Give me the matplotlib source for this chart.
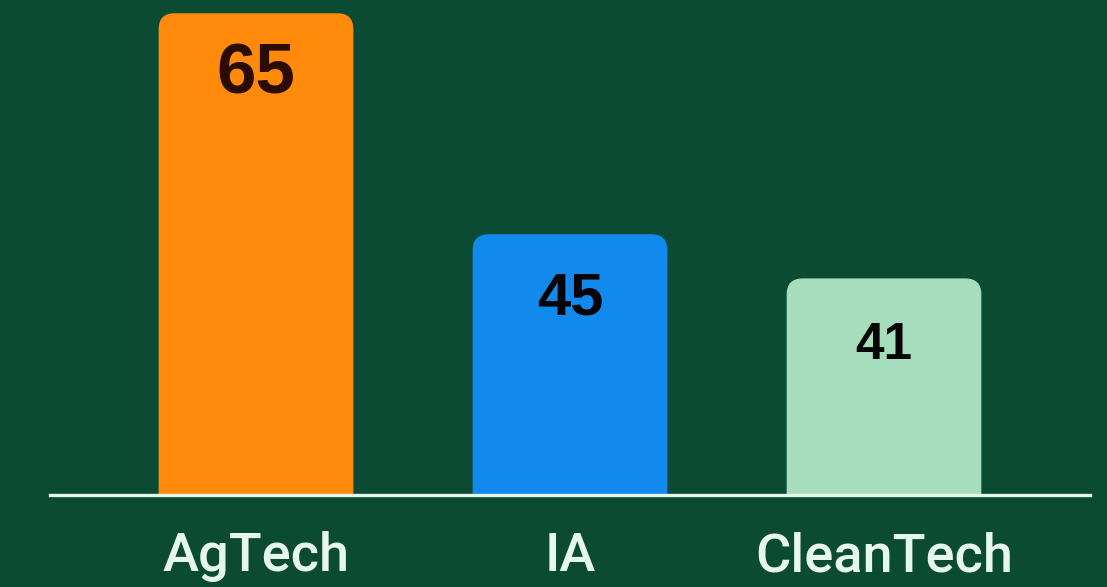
import matplotlib
matplotlib.use("Agg")
import matplotlib.pyplot as plt
from matplotlib.patches import FancyBboxPatch

categories = ["AgTech", "IA", "CleanTech"]
values = [65, 45, 41]

bar_colors = ["#FF8A0C", "#1289EC", "#A6DDBD"]
value_colors = ["#2A0C02", "#050505", "#050505"]
value_sizes = [51, 43, 37]
BG = "#0B4B33"
LINE = "#E6F7EE"


def main():
  fig = plt.figure(figsize=(11.07, 5.87), dpi=100, facecolor=BG)
  ax = fig.add_axes([50 / 1107, 92 / 587, 1040 / 1107, 495 / 587])
  ax.set_facecolor(BG)

  x = list(range(len(categories)))
  bars = ax.bar(x, values, width=0.62, color=bar_colors)

  ax.set_xlim(-0.656, 2.656)
  ax.set_ylim(21.4, 66.2)

  # swap the plain rectangles for ones with rounded tops
  fig.canvas.draw()
  p0 = ax.transData.transform((0, 0))
  p1 = ax.transData.transform((1, 1))
  px_x = p1[0] - p0[0]
  px_y = p1[1] - p0[1]
  radius = 16 / px_x
  for rect, c in zip(bars, bar_colors):
    rect.set_visible(False)
    patch = FancyBboxPatch((rect.get_x(), rect.get_y()), rect.get_width(), rect.get_height(),
                           boxstyle="round,pad=0,rounding_size=%f" % radius,
                           mutation_aspect=px_x / px_y, facecolor=c, edgecolor="none")
    ax.add_patch(patch)

  for i, v in enumerate(values):
    ax.annotate(str(v), (x[i], v), xytext=(0, -58), textcoords="offset points",
                ha="center", va="baseline", fontsize=value_sizes[i], fontweight="bold",
                family="Liberation Sans", color=value_colors[i])

  for s in ["top", "left", "right"]:
    ax.spines[s].set_visible(False)
  ax.spines["bottom"].set_color(LINE)
  ax.spines["bottom"].set_linewidth(2.4)
  ax.set_yticks([])
  ax.set_xticks(x)
  ax.set_xticklabels(categories, fontsize=39, family="Roboto", fontweight="medium", color=LINE)
  ax.tick_params(axis="x", length=0, pad=26)

  fig.savefig("out.png", dpi=100, facecolor=BG)


if __name__ == '__main__':
  main()
